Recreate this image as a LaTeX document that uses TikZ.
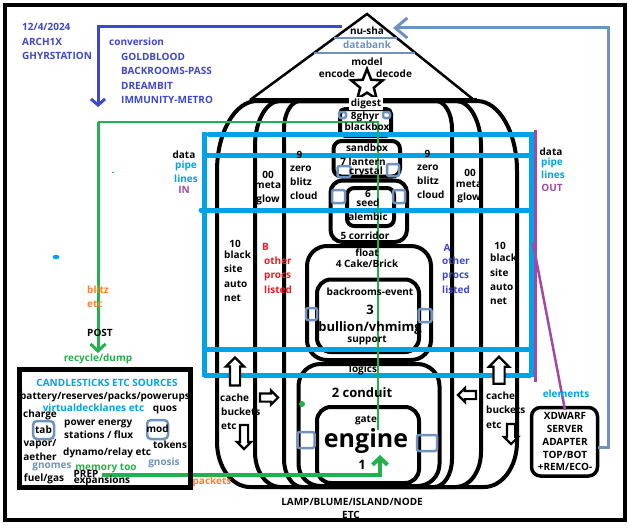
\documentclass[tikz,border=0pt]{standalone}
\usepackage{fontspec}
\setmainfont{Open Sans}
\usetikzlibrary{arrows.meta,shapes.geometric,shapes.arrows}
\definecolor{ind}{HTML}{3F48CC}
\definecolor{stl}{HTML}{7092BE}
\definecolor{cyn}{HTML}{00A2E8}
\definecolor{prp}{HTML}{A349A4}
\definecolor{grn}{HTML}{22B14C}
\definecolor{org}{HTML}{FF7F27}
\definecolor{rd}{HTML}{ED1C24}
\begin{document}
\begin{tikzpicture}[x=1pt,y=-1pt,
 t/.style={inner sep=0pt, font=\bfseries\fontsize{10}{12}\selectfont, anchor=base},
 tw/.style={t, anchor=base west},
 big/.style={font=\bfseries\fontsize{13}{15}\selectfont},
 arch/.style={draw=black, line width=4pt},
 bx/.style={draw=black, line width=4pt, inner sep=0pt},
 sq/.style={draw=stl, line width=2.5pt, rounded corners=2pt, inner sep=0pt},
 pipe/.style={draw=cyn, line width=5pt},
 barrow/.style={single arrow, draw=black, line width=2.2pt, fill=white, inner sep=#1, single arrow head extend=#1, single arrow head indent=0pt},
]
\useasboundingbox (0,0) rectangle (628,527);
\fill[white] (0,0) rectangle (628,527);
% frame
\draw[line width=4pt] (4.5,5) rectangle (625,520);

% roof
\coordinate (apex) at (367,14);
\coordinate (roofL) at (250,100);
\coordinate (roofR) at (474,100);
\draw[line width=2.5pt] (roofL) -- (apex) -- (roofR);
\draw[stl, line width=2.5pt] (334,38) -- (397,38);
\draw[stl, line width=2.5pt] (314,53) -- (415,53);

% pumpkin arches
\draw[arch] (257,101) -- (477,101) arc[start angle=-90,end angle=0,x radius=40,y radius=70] -- (517,442) arc[start angle=0,end angle=90,x radius=33,y radius=45] -- (250,487) arc[start angle=90,end angle=180,x radius=33,y radius=45] -- (217,171) arc[start angle=180,end angle=270,x radius=40,y radius=70] -- cycle;
\draw[arch] (280,101) -- (456,101) arc[start angle=-90,end angle=0,x radius=25,y radius=45] -- (481,452) arc[start angle=0,end angle=90,x radius=25,y radius=35] -- (280,487) arc[start angle=90,end angle=180,x radius=25,y radius=35] -- (255,146) arc[start angle=180,end angle=270,x radius=25,y radius=45] -- cycle;
\draw[arch] (300,101) -- (436,101) arc[start angle=-90,end angle=0,x radius=16,y radius=28] -- (452,459) arc[start angle=0,end angle=90,x radius=18,y radius=28] -- (302,487) arc[start angle=90,end angle=180,x radius=18,y radius=28] -- (284,129) arc[start angle=180,end angle=270,x radius=16,y radius=28] -- cycle;
\draw[line width=5pt] (roofL) -- (477,100);

% central boxes
\node[bx, rounded corners=5pt, minimum width=51, minimum height=27] (blackbox) at (365.5,122.5) {};
\node[bx, rounded corners=8pt, minimum width=66.5, minimum height=35.5] (sandbox) at (366.75,158.75) {};
\node[bx, rounded corners=12pt, minimum width=76.5, minimum height=61.5] (corridor) at (368.75,211.25) {};
\node[bx, rounded corners=7pt, minimum width=47, minimum height=38] (seedbox) at (370.5,207) {};
\node[bx, rounded corners=20pt, minimum width=124, minimum height=114] (floatbox) at (369,303) {};
\node[bx, rounded corners=14pt, minimum width=102, minimum height=72.5] (backrooms) at (368,315.75) {};
\node[bx, rounded corners=22pt, minimum width=141, minimum height=122] (conduit) at (369,425) {};
\node[bx, rounded corners=14pt, minimum width=102, minimum height=76] (enginebox) at (368,445) {};

% star and digest
\node[star, star points=5, star point ratio=2.3, minimum size=33pt, inner sep=0pt, draw, line width=2.5pt, fill=white] (star) at (367,85.5) {};
\node[t, fill=white, inner sep=1.5pt] (digest) at (366,106) {digest};

% steel squares
\node[sq, minimum width=7, minimum height=6] (s1) at (342.5,115) {};
\node[sq, minimum width=7, minimum height=6] (s2) at (386.5,115) {};
\node[sq, minimum width=13, minimum height=11] (s3) at (344,171.5) {};
\node[sq, minimum width=12, minimum height=12] (s4) at (393,170) {};
\node[sq, minimum width=13, minimum height=13] (s5) at (338.5,196.5) {};
\node[sq, minimum width=12, minimum height=13] (s6) at (399,196.5) {};
\node[sq, minimum width=11, minimum height=12] (s7) at (311.5,314) {};
\node[sq, minimum width=13, minimum height=13] (s8) at (425,315.5) {};
\node[sq, minimum width=17, minimum height=16] (s9) at (306,440) {};
\node[sq, minimum width=20, minimum height=16] (s10) at (427,443) {};

% pipes
\draw[pipe] (204,132) -- (204,377);
\draw[pipe] (531,132) -- (531,377);
\draw[pipe, line cap=round] (209,134) -- (531,134);
\draw[pipe] (204,155) -- (531,155);
\draw[pipe, line cap=round] (201,210) -- (531,210);
\draw[pipe] (206,349.5) -- (531,349.5);
\draw[pipe] (204,375) -- (531,375);
\draw[prp, line width=3pt] (535.5,130) -- (535.5,382);

% XDWARF box
\node[draw, line width=3.5pt, rounded corners=9pt, minimum width=66, minimum height=68.5, inner sep=0pt] (xdw) at (564.5,441.75) {};
\coordinate (pd1) at (533,243);
\coordinate (pd2) at (565,410);
\draw[prp, line width=2.5pt] (pd1) -- (pd2);

% indigo arrow
\coordinate (indS) at (342,27);
\coordinate (indE) at (98,107);
\draw[ind, line width=3pt, -{Straight Barb[length=6pt,width=14pt]}] (indS) -| (indE);
% steel arrow
\coordinate (stS) at (598,447);
\coordinate (stK) at (608,28);
\coordinate (stE) at (393,28);
\draw[stl, line width=3pt, -{Straight Barb[length=12pt,width=20pt]}] (stS) -| (stK) -- (stE);

% green lines
\coordinate (gE) at (378,430);
\coordinate (gK) at (378,122);
\coordinate (gL) at (98,122);
\coordinate (gA) at (98,353);
\draw[grn, line width=1.2pt] (gE) -- (gK) -- (gL);
\draw[grn, line width=3pt, -{Straight Barb[length=7pt,width=15pt]}] (gL) -- (gA);
\coordinate (gP) at (102,475);
\coordinate (gT) at (380,455);
\draw[grn, line width=4pt, -{Straight Barb[length=7pt,width=15pt]}] (gP) -| (gT);
\fill[grn] (302,404) circle (3);
\fill[cyn] (56,257) ellipse (3.5 and 2.2);
\draw[grn, line width=0.8pt] (112,172.5) -- (114,172.5);

% block arrows
\node[barrow=4pt, minimum height=28pt, shape border rotate=90] (cUpL) at (235,374) {};
\node[barrow=3pt, minimum height=18pt] (cRtL) at (267,397.5) {};
\node[barrow=3pt, minimum height=24pt, shape border rotate=270] (cDnL) at (244,435) {};
\node[barrow=4.5pt, minimum height=27pt, shape border rotate=90] (cUpR) at (499,373) {};
\node[barrow=3pt, minimum height=18pt, shape border rotate=180] (cLtR) at (469,395) {};
\node[barrow=3pt, minimum height=20pt, shape border rotate=270] (cDnR) at (511,432) {};

% candlesticks box
\node[draw, line width=5pt, minimum width=171, minimum height=118, inner sep=0pt] (cbox) at (105,428.5) {};
\node[sq, minimum width=21, minimum height=18, rounded corners=4pt] (tabbox) at (43.5,430) {};
\node[sq, minimum width=21, minimum height=19, rounded corners=4pt] (modbox) at (157.5,429.5) {};

% ---------- texts ----------
\node[tw, text=ind] (d1) at (22,30.5) {12/4/2024};
\node[tw, text=ind] (d2) at (22,45.5) {ARCH1X};
\node[tw, text=ind] (d3) at (22,59.5) {GHYRSTATION};
\node[tw, text=ind] (c0) at (109,45.5) {conversion};
\node[tw, text=ind] (c1) at (121,60.5) {GOLDBLOOD};
\node[tw, text=ind] (c2) at (121,74.5) {BACKROOMS-PASS};
\node[tw, text=ind] (c3) at (121,89.5) {DREAMBIT};
\node[tw, text=ind] (c4) at (121,103.5) {IMMUNITY-METRO};

\node[t] (nusha) at (367,34.5) {nu-sha};
\node[t, text=stl] (databank) at (367,48.5) {databank};
\node[t] (model) at (367,65.5) {model};
\node[t] (encode) at (337,77.5) {encode};
\node[t] (decode) at (394,77.5) {decode};

\node[t] (ghyr) at (365,119) {8ghyr};
\node[t] (bbx) at (367,130.5) {blackbox};
\node[t] (sbx) at (367,151.5) {sandbox};
\node[t] (lant) at (363,165) {7 lantern};
\node[t] (crys) at (366,174.5) {crystal};
\node[t] (six) at (368,197.5) {6};
\node[t] (seed) at (368,206.5) {seed};
\node[t] (alem) at (368,220.5) {alembic};
\node[t] (corr) at (365,239.5) {5 corridor};
\node[t] (flt) at (367,256.5) {float};
\node[t] (cake) at (367,267.5) {4 Cake/Brick};
\node[t] (bre) at (370,295.5) {backrooms-event};
\node[t, big] (three) at (370,314) {3};
\node[t, big] (bull) at (370,331) {bullion/vhmimg};
\node[t] (supp) at (367,342) {support};
\node[t] (logics) at (363,372) {logics};
\node[t, big] (cond) at (362,397) {2 conduit};
\node[t] (gate) at (366,422) {gate};
\node[t, font=\bfseries\fontsize{25}{28}\selectfont] (engine) at (366,447) {engine};
\node[t, big] (one) at (362,469) {1};

\node[t] (dataL) at (184,158.5) {data};
\node[t, text=cyn] (pipeL) at (186,168) {pipe};
\node[t, text=cyn] (linesL) at (186,182.5) {lines};
\node[t, text=prp] (inL) at (184,193.5) {IN};
\node[t] (zzL) at (268,178.5) {00};
\node[t] (metaL) at (268,188.5) {meta};
\node[t] (glowL) at (268,202.5) {glow};
\node[t] (nineL) at (299.5,158) {9};
\node[tw] (zeroL) at (290,171.5) {zero};
\node[tw] (blitzL) at (290,185.5) {blitz};
\node[tw] (cloudL) at (290,199.5) {cloud};
\node[t] (nineR) at (427.5,157.5) {9};
\node[tw] (zeroR) at (417,170.5) {zero};
\node[tw] (blitzR) at (417,184) {blitz};
\node[tw] (cloudR) at (417,198.5) {cloud};
\node[t] (zzR) at (470,176.5) {00};
\node[t] (metaR) at (469,187) {meta};
\node[t] (glowR) at (469,200.5) {glow};
\node[t] (dataR) at (551,155.5) {data};
\node[t, text=cyn] (pipeR) at (552,165.5) {pipe};
\node[t, text=cyn] (linesR) at (553,178.5) {lines};
\node[t, text=prp] (outR) at (552,191.5) {OUT};

\node[t] (tenL) at (235,247.5) {10};
\node[tw] (blackL) at (224,258.5) {black};
\node[tw] (siteL) at (224,272.5) {site};
\node[tw] (autoL) at (224,287.5) {auto};
\node[tw] (netL) at (224,301.5) {net};
\node[tw, text=rd] (bB) at (262,250) {B};
\node[tw, text=rd] (bo) at (264,264.5) {other};
\node[tw, text=rd] (bp) at (264,278.5) {procs};
\node[tw, text=rd] (bl) at (264,293) {listed};
\node[t, text=ind] (aA) at (447,251.5) {A};
\node[tw, text=ind] (ao) at (442,264) {other};
\node[tw, text=ind] (ap) at (442,278) {procs};
\node[tw, text=ind] (al) at (442,293) {listed};
\node[t] (tenR) at (500,249.5) {10};
\node[tw] (blackR) at (490,261) {black};
\node[tw] (siteR) at (490,276) {site};
\node[tw] (autoR) at (490,290.5) {auto};
\node[tw] (netR) at (490,304.5) {net};

\node[tw] (cacheL) at (220,401.5) {cache};
\node[tw] (buckL) at (221,415.5) {buckets};
\node[tw] (etcL) at (221,429.5) {etc};
\node[tw] (cacheR) at (486,399.5) {cache};
\node[tw] (buckR) at (486,413.5) {buckets};
\node[tw] (etcR) at (486,428.5) {etc};

\node[t] (lamp) at (352,505.5) {LAMP/BLUME/ISLAND/NODE};
\node[t] (etcB) at (351,518) {ETC};
\node[t, text=org] (packets) at (212,484.5) {packets};
\node[t, text=cyn] (elements) at (566,397.5) {elements};
\node[t] (x1) at (565,419) {XDWARF};
\node[t] (x2) at (565,432) {SERVER};
\node[t] (x3) at (565,445.5) {ADAPTER};
\node[t] (x4) at (565,458) {TOP/BOT};
\node[t] (x5) at (565,470) {+REM/ECO-};

\node[tw, text=org] (blitzO) at (87,293.5) {blitz};
\node[tw, text=org] (etcO) at (87,307.5) {etc};
\node[t] (post) at (100,336) {POST};
\node[t, text=grn] (recyc) at (98,361) {recycle/dump};

\node[t, text=cyn] (cand) at (107,386.5) {CANDLESTICKS ETC SOURCES};
\node[t] (batt) at (105,399.5) {battery/reserves/packs/powerups};
\node[t, text=cyn] (vdl) at (93.5,411.5) {virtualdecklanes etc};
\node[t] (quos) at (165,411.5) {quos};
\node[t] (charge) at (40,417.5) {charge};
\node[t] (tab) at (43.5,433.5) {tab};
\node[tw] (pe) at (64,425) {power energy};
\node[tw] (sf) at (64,438.5) {stations / flux};
\node[t] (mod) at (157.5,432.5) {mod};
\node[t] (vapor) at (40,446.5) {vapor/};
\node[t] (tokens) at (170,448.5) {tokens};
\node[tw] (dyn) at (63,455.5) {dynamo/relay etc};
\node[t] (aether) at (40,460.5) {aether};
\node[t, text=stl] (gnomes) at (52,468) {gnomes};
\node[t, text=grn] (memtoo) at (106,470) {memory too};
\node[t, text=stl] (gnosis) at (164,465) {gnosis};
\node[t] (fuel) at (44,481.5) {fuel/gas};
\node[t] (prep) at (86,477) {PREP};
\node[t] (expa) at (102,483) {expansions};
\end{tikzpicture}
\end{document}
